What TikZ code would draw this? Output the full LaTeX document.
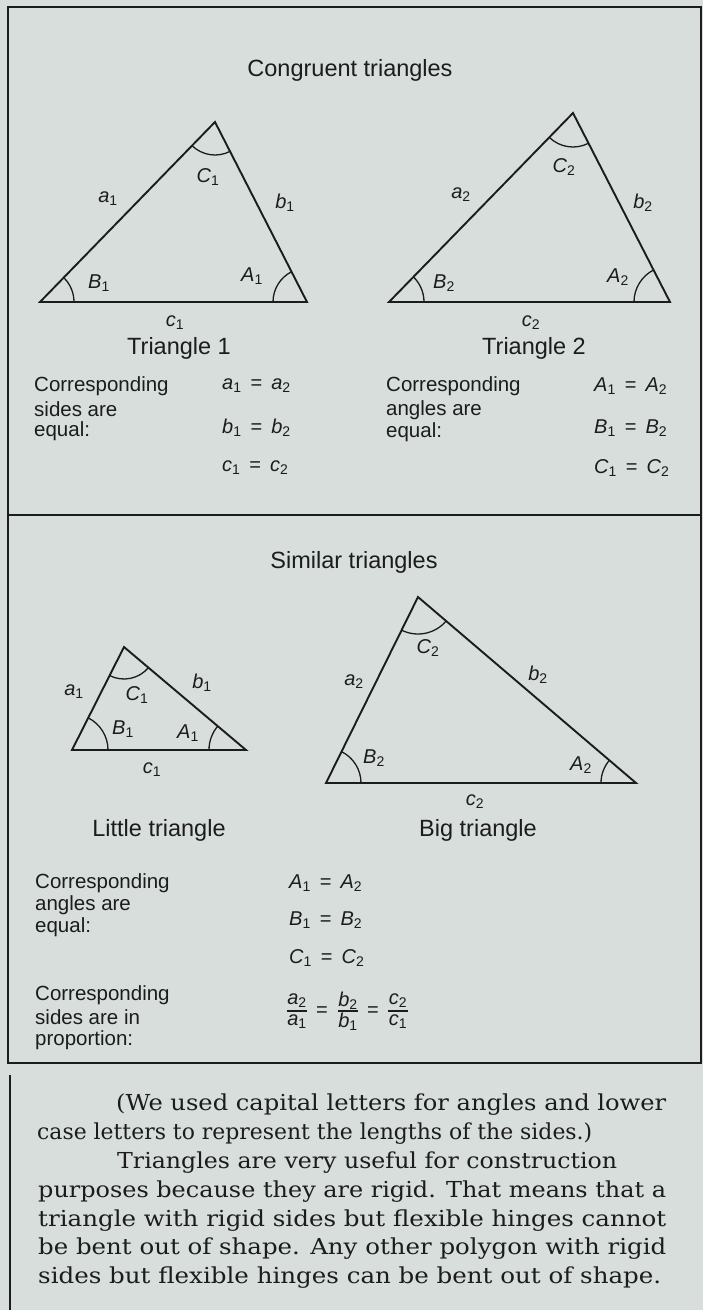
\documentclass[tikz,border=0pt]{standalone}
\usepackage{fontspec}
\usepackage{graphicx}
\setmainfont{Liberation Sans}
\newfontfamily\bodyserif{DejaVu Serif}
\usetikzlibrary{angles}
\definecolor{bgc}{RGB}{215,222,220}
\definecolor{ink}{RGB}{28,28,28}
\newcommand\sv[2]{{\itshape #1}\textsubscript{#2}}
\newcommand\eqs{\hspace{0.45em}=\hspace{0.45em}}
\newcommand\bline[2]{\resizebox{#1}{\height}{#2}}
\begin{document}
\begin{tikzpicture}[x=1pt,y=-1pt,
  frame/.style={draw=ink,line width=1.3pt},
  tri/.style={draw=ink,line width=1.9pt,line join=miter},
  ang/.style={draw=ink,line width=1.3pt},
  lbl/.style={text=ink,inner sep=0pt,font=\fontsize{20}{22}\selectfont},
  txt/.style={text=ink,inner sep=0pt,anchor=west,font=\fontsize{20.5}{22}\selectfont},
  head/.style={text=ink,inner sep=0pt,font=\fontsize{23.5}{26}\selectfont},
  body/.style={text=ink,inner sep=0pt,anchor=base west,font=\bodyserif\fontsize{22}{28}\selectfont}]
\fill[bgc] (0,0) rectangle (703,1310);
\useasboundingbox (0,0) rectangle (703,1310);
% frame
\draw[frame] (8,1063) -- (8,7) -- (701,7) -- (701,1063) -- cycle;
\draw[frame] (8,515) -- (701,515);
\draw[frame] (10,1075) -- (10,1310);

% ---------- Congruent triangles ----------
\node[head] (t1) at (350,70) {Congruent triangles};
% triangle 1
\coordinate (T1) at (215,122);
\coordinate (L1) at (40,302);
\coordinate (R1) at (307,302);
\draw[tri] (L1) -- (T1) -- (R1) -- cycle;
\pic[ang,angle radius=33pt] {angle=L1--T1--R1};
\pic[ang,angle radius=34pt] {angle=R1--L1--T1};
\pic[ang,angle radius=34pt] {angle=T1--R1--L1};
\node[lbl] (c1C) at (208,177) {\sv C1};
\node[lbl] (c1a) at (108,199) {\sv a1};
\node[lbl] (c1b) at (285,203) {\sv b1};
\node[lbl] (c1B) at (99,283) {\sv B1};
\node[lbl] (c1A) at (252,276) {\sv A1};
\node[lbl] (c1c) at (175,323) {\sv c1};
\node[head] (tr1) at (179,348) {Triangle 1};
% triangle 2
\coordinate (T2) at (573,113);
\coordinate (L2) at (389,302);
\coordinate (R2) at (670,302);
\draw[tri] (L2) -- (T2) -- (R2) -- cycle;
\pic[ang,angle radius=34pt] {angle=L2--T2--R2};
\pic[ang,angle radius=35pt] {angle=R2--L2--T2};
\pic[ang,angle radius=36pt] {angle=T2--R2--L2};
\node[lbl] (c2C) at (564,167) {\sv C2};
\node[lbl] (c2a) at (461,195) {\sv a2};
\node[lbl] (c2b) at (643,203) {\sv b2};
\node[lbl] (c2B) at (444,283) {\sv B2};
\node[lbl] (c2A) at (618,277) {\sv A2};
\node[lbl] (c2c) at (531,323) {\sv c2};
\node[head] (tr2) at (534,348) {Triangle 2};
% statements
\node[txt] (s1) at (34,386) {Corresponding};
\node[txt] (s2) at (34,409) {sides are};
\node[txt] (s3) at (34,431) {equal:};
\node[lbl,anchor=west] (e1) at (222,386) {\sv a1\eqs\sv a2};
\node[lbl,anchor=west] (e2) at (222,428) {\sv b1\eqs\sv b2};
\node[lbl,anchor=west] (e3) at (222,468) {\sv c1\eqs\sv c2};
\node[txt] (r1) at (386,386) {Corresponding};
\node[txt] (r2) at (386,410) {angles are};
\node[txt] (r3) at (386,432) {equal:};
\node[lbl,anchor=west] (f1) at (594,386) {\sv A1\eqs\sv A2};
\node[lbl,anchor=west] (f2) at (594,428) {\sv B1\eqs\sv B2};
\node[lbl,anchor=west] (f3) at (594,468) {\sv C1\eqs\sv C2};

% ---------- Similar triangles ----------
\node[head] (t2) at (354,562) {Similar triangles};
% little triangle
\coordinate (T3) at (124,647);
\coordinate (L3) at (72,750);
\coordinate (R3) at (246,750);
\draw[tri] (L3) -- (T3) -- (R3) -- cycle;
\pic[ang,angle radius=32pt] {angle=L3--T3--R3};
\pic[ang,angle radius=36pt] {angle=R3--L3--T3};
\pic[ang,angle radius=37pt] {angle=T3--R3--L3};
\node[lbl] (l3a) at (74,692) {\sv a1};
\node[lbl] (l3C) at (137,695) {\sv C1};
\node[lbl] (l3b) at (202,683) {\sv b1};
\node[lbl] (l3B) at (123,729) {\sv B1};
\node[lbl] (l3A) at (188,733) {\sv A1};
\node[lbl] (l3c) at (152,770) {\sv c1};
\node[head] (lt) at (159,830) {Little triangle};
% big triangle
\coordinate (T4) at (418,597);
\coordinate (L4) at (326,783);
\coordinate (R4) at (636,783);
\draw[tri] (L4) -- (T4) -- (R4) -- cycle;
\pic[ang,angle radius=37pt] {angle=L4--T4--R4};
\pic[ang,angle radius=35pt] {angle=R4--L4--T4};
\pic[ang,angle radius=35pt] {angle=T4--R4--L4};
\node[lbl] (b4C) at (428,648) {\sv C2};
\node[lbl] (b4a) at (354,682) {\sv a2};
\node[lbl] (b4b) at (538,675) {\sv b2};
\node[lbl] (b4B) at (374,758) {\sv B2};
\node[lbl] (b4A) at (581,765) {\sv A2};
\node[lbl] (b4c) at (475,802) {\sv c2};
\node[head] (bt) at (478,830) {Big triangle};
% statements
\node[txt] (u1) at (35,883) {Corresponding};
\node[txt] (u2) at (35,905) {angles are};
\node[txt] (u3) at (35,927) {equal:};
\node[lbl,anchor=west] (g1) at (289,883) {\sv A1\eqs\sv A2};
\node[lbl,anchor=west] (g2) at (289,920) {\sv B1\eqs\sv B2};
\node[lbl,anchor=west] (g3) at (289,958) {\sv C1\eqs\sv C2};
\node[txt] (v1) at (35,995) {Corresponding};
\node[txt] (v2) at (35,1017) {sides are in};
\node[txt] (v3) at (35,1040) {proportion:};
% proportion fractions
\node[lbl] (n1) at (297,1001) {\sv a2};
\node[lbl] (d1) at (297,1022) {\sv a1};
\draw[ang] (287,1011) -- (307,1011);
\node[lbl] (q1) at (322,1012) {=};
\node[lbl] (n2) at (348,1001) {\sv b2};
\node[lbl] (d2) at (348,1022) {\sv b1};
\draw[ang] (338,1011) -- (358,1011);
\node[lbl] (q2) at (373,1012) {=};
\node[lbl] (n3) at (398,1001) {\sv c2};
\node[lbl] (d3) at (398,1022) {\sv c1};
\draw[ang] (388,1011) -- (408,1011);

% ---------- Body text ----------
\node[body] (p1) at (116,1110) {\bline{550pt}{(We used capital letters for angles and lower}};
\node[body] (p2) at (37,1139) {\bline{555pt}{case letters to represent the lengths of the sides.)}};
\node[body] (p3) at (117,1168) {\bline{500pt}{Triangles are very useful for construction}};
\node[body] (p4) at (38,1197) {\bline{628pt}{purposes because they are rigid. That means that a}};
\node[body] (p5) at (38,1226) {\bline{628pt}{triangle with rigid sides but flexible hinges cannot}};
\node[body] (p6) at (38,1254) {\bline{628pt}{be bent out of shape. Any other polygon with rigid}};
\node[body] (p7) at (38,1283) {\bline{623pt}{sides but flexible hinges can be bent out of shape.}};
\end{tikzpicture}
\end{document}
